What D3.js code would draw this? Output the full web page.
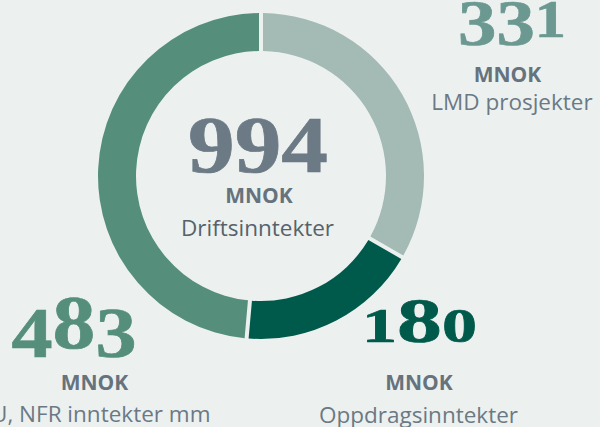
<!DOCTYPE html>
<html><head><meta charset="utf-8">
<script src="https://cdn.jsdelivr.net/npm/d3@7"></script>
<style>html,body{margin:0;padding:0;background:#ecf1f0;overflow:hidden}</style>
</head><body>
<svg id="c" width="600" height="427"></svg>
<script>
// ---- data ----
const categories = ["LMD prosjekter", "Oppdragsinntekter", "EU, NFR inntekter mm"];
const values = [331, 180, 483];
const totalValue = 994;
const totalLabel = "Driftsinntekter";
const unit = "MNOK";

// ---- styles / layout ----
const W = 600, H = 427;
const bg = "#ecf1f0";
const sliceColors = ["#a3bab5", "#005a4b", "#558f7b"];
const numberColors = ["#6b9991", "#005a4b", "#558f7b"];
const centerNumColor = "#6c7a85";
const unitColor = "#66737d";
const labelColor = "#6b7984";
const centerLabelColor = "#56626a";
const cx = 261, cy = 176, rOuter = 163, rInner = 125, gap = 4;

// label layout per category (numCx, numBase, digitHeight, numWidth, unitX, unitY, labelX, labelY)
const labelLayout = [
  {nx: 512, nb: 37, nh: 45, nw: 108, ux: 507.5, uy: 82, lx: 512, ly: 110},
  {nx: 419.5, nb: 342, nh: 42, nw: 115, ux: 419, uy: 390, lx: 418.5, ly: 423},
  {nx: 74, nb: 348, nh: 50, nw: 125, ux: 94.5, uy: 390, lx: 94.5, ly: 422}
];
const centerLayout = {nx: 258, nb: 162, nh: 56, nw: 140, ux: 259, uy: 203, lx: 257.5, ly: 236};

const svg = d3.select("#c");
svg.append("rect").attr("width", W).attr("height", H).attr("fill", bg);

const pie = d3.pie().sort(null).value(d => d).startAngle(0).endAngle(2 * Math.PI);
const arc = d3.arc().innerRadius(rInner).outerRadius(rOuter)
  .padRadius(rOuter).padAngle(gap / rOuter);

svg.append("g").attr("transform", `translate(${cx},${cy})`)
  .selectAll("path").data(pie(values)).join("path")
  .attr("d", arc).attr("fill", (d, i) => sliceColors[i]);

// old-style figure emulation
const descDigits = "34579", xDigits = "012";
function oldStyleNumber(str, lay, color) {
  const F = lay.nh / 0.665;
  const D = lay.nh * 0.18;
  const t = svg.append("text")
    .attr("font-family", "'Liberation Serif', 'Times New Roman', serif")
    .attr("font-weight", "bold").attr("fill", color)
    .attr("stroke", color).attr("stroke-width", 0.7)
    .attr("x", 0).attr("y", 0);
  let cur = 0;
  for (const ch of str) {
    let size = F, off = 0;
    if (descDigits.includes(ch)) { size = F * 0.96; off = D; }
    else if (xDigits.includes(ch)) { size = F * 0.78; off = 0; }
    t.append("tspan").attr("font-size", size).attr("dy", off - cur).text(ch);
    cur = off;
  }
  const bb = t.node().getBBox();
  const s = lay.nw / bb.width;
  t.attr("transform", `translate(${lay.nx - (bb.x + bb.width / 2) * s},${lay.nb}) scale(${s},1)`);
}

function addTexts(numStr, lay, numColor, label, lblColor) {
  oldStyleNumber(numStr, lay, numColor);
  svg.append("text").attr("x", lay.ux).attr("y", lay.uy)
    .attr("text-anchor", "middle").attr("font-family", "'Open Sans', sans-serif")
    .attr("font-weight", "bold").attr("font-size", 21).attr("fill", unitColor).text(unit);
  svg.append("text").attr("x", lay.lx).attr("y", lay.ly)
    .attr("text-anchor", "middle").attr("font-family", "'Open Sans', sans-serif")
    .attr("font-size", 22.5).attr("fill", lblColor).text(label);
}

values.forEach((v, i) => addTexts(String(v), labelLayout[i], numberColors[i], categories[i], labelColor));
addTexts(String(totalValue), centerLayout, centerNumColor, totalLabel, centerLabelColor);
</script>
</body></html>
